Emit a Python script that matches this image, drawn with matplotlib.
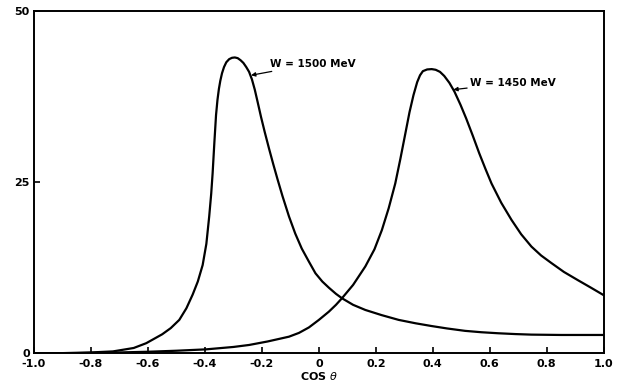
import matplotlib

matplotlib.use("Agg")
import matplotlib.pyplot as plt

plt.rcParams["axes.unicode_minus"] = False
plt.rcParams["font.family"] = "DejaVu Sans"

# values (cos theta, cross section)
cos_1500 = [-1.0, -0.9, -0.8, -0.723, -0.65, -0.606, -0.55, -0.52, -0.49, -0.465,
            -0.443, -0.425, -0.408, -0.395, -0.385, -0.378, -0.373, -0.367, -0.361,
            -0.356, -0.351, -0.346, -0.340, -0.333, -0.325, -0.315, -0.305, -0.295,
            -0.285, -0.275, -0.265, -0.255, -0.245, -0.235, -0.225, -0.215, -0.203,
            -0.19, -0.175, -0.16, -0.145, -0.128, -0.105, -0.083, -0.06, -0.035,
            -0.012, 0.012, 0.035, 0.06, 0.081, 0.12, 0.163, 0.22, 0.28, 0.34, 0.396,
            0.45, 0.513, 0.57, 0.629, 0.69, 0.746, 0.85, 1.0]
sig_1500 = [0.0, 0.05, 0.15, 0.3, 0.8, 1.5, 2.8, 3.7, 4.9, 6.6,
            8.6, 10.5, 12.9, 16.0, 20.0, 23.3, 26.3, 30.7, 34.8,
            37.0, 38.6, 39.8, 40.9, 41.8, 42.5, 42.95, 43.15, 43.2,
            43.1, 42.8, 42.4, 41.8, 41.1, 40.0, 38.5, 36.7, 34.5,
            32.3, 29.9, 27.6, 25.4, 23.0, 20.0, 17.5, 15.3, 13.4,
            11.7, 10.5, 9.6, 8.7, 8.06, 7.1, 6.35, 5.6, 4.9, 4.4, 4.0,
            3.65, 3.3, 3.1, 2.95, 2.83, 2.75, 2.7, 2.7]

cos_1450 = [-1.0, -0.9, -0.8, -0.7, -0.6, -0.5, -0.396, -0.3, -0.245, -0.18,
            -0.105, -0.07, -0.035, 0.0, 0.035, 0.06, 0.081, 0.12, 0.163, 0.195,
            0.221, 0.245, 0.268, 0.286, 0.303, 0.318, 0.332, 0.345, 0.355, 0.365,
            0.38, 0.396, 0.41, 0.425, 0.44, 0.458, 0.476, 0.497, 0.517, 0.54,
            0.563, 0.585, 0.606, 0.64, 0.676, 0.71, 0.746, 0.78, 0.816, 0.86,
            0.909, 0.955, 1.0]
sig_1450 = [0.0, 0.02, 0.08, 0.15, 0.25, 0.4, 0.6, 0.95, 1.24, 1.75,
            2.45, 3.0, 3.8, 4.9, 6.1, 7.1, 8.06, 10.0, 12.7, 15.2,
            18.0, 21.2, 24.8, 28.4, 32.0, 35.2, 37.7, 39.6, 40.6, 41.2,
            41.45, 41.5, 41.4, 41.1, 40.5, 39.5, 38.2, 36.3, 34.3, 31.8,
            29.2, 26.9, 24.8, 22.0, 19.5, 17.4, 15.6, 14.3, 13.2, 11.9,
            10.7, 9.6, 8.5]

x_ticks = [-1.0, -0.8, -0.6, -0.4, -0.2, 0.0, 0.2, 0.4, 0.6, 0.8, 1.0]
x_labels = ["-1.0", "-0.8", "-0.6", "-0.4", "-0.2", "0", "0.2", "0.4", "0.6", "0.8", "1.0"]
y_ticks = [0, 25, 50]
y_labels = ["0", "25", "50"]

fig = plt.figure(figsize=(6.18, 3.88), dpi=100)
ax = fig.add_axes([0.055, 0.089, 0.922, 0.883])

ax.plot(cos_1500, sig_1500, color="black", lw=1.6, solid_joinstyle="round")
ax.plot(cos_1450, sig_1450, color="black", lw=1.6, solid_joinstyle="round")

ax.set_xlim(-1.0, 1.0)
ax.set_ylim(0, 50)
ax.set_xticks(x_ticks)
ax.set_xticklabels(x_labels, fontsize=8, fontweight="bold")
ax.set_yticks(y_ticks)
ax.set_yticklabels(y_labels, fontsize=8, fontweight="bold")
ax.tick_params(axis="both", direction="in", length=4, width=1.2, color="black")
ax.tick_params(axis="x", pad=4)
ax.tick_params(axis="y", pad=3)
for s in ax.spines.values():
    s.set_linewidth(1.4)

ax.set_xlabel("COS $\\theta$", fontsize=8, fontweight="bold", labelpad=1)

arrow = dict(arrowstyle="-|>", color="black", lw=0.9, mutation_scale=6,
             shrinkA=0, shrinkB=0)
ax.annotate("W = 1500 MeV", xy=(-0.238, 40.6), xytext=(-0.17, 42.3),
            fontsize=7.5, fontweight="bold", va="center", ha="left",
            arrowprops=arrow)
ax.annotate("W = 1450 MeV", xy=(0.472, 38.5), xytext=(0.53, 39.5),
            fontsize=7.5, fontweight="bold", va="center", ha="left",
            arrowprops=arrow)

fig.savefig("out.png", dpi=100)
